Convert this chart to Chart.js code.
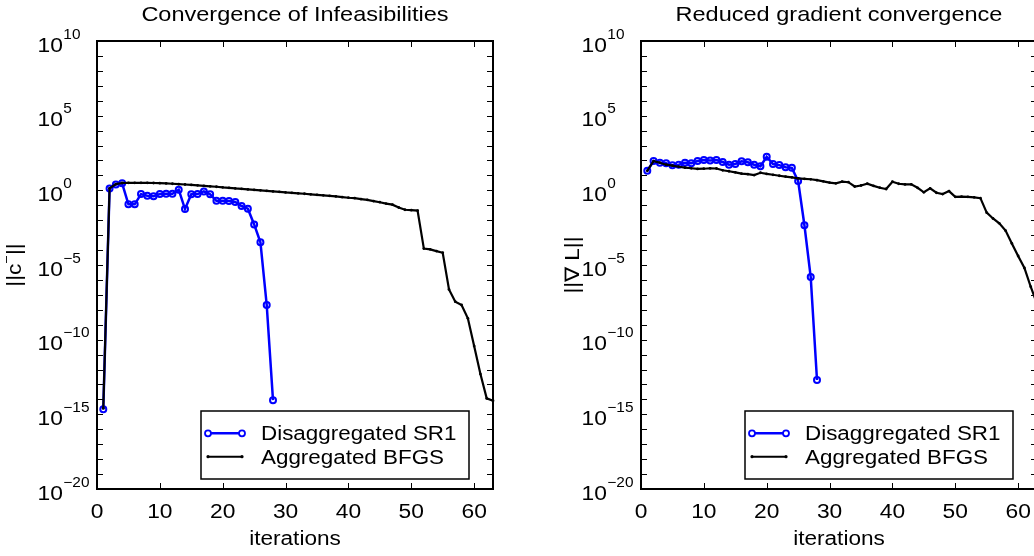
<!DOCTYPE html>
<html><head><meta charset="utf-8">
<script src="https://cdn.jsdelivr.net/npm/chart.js@4.4.0/dist/chart.umd.min.js"></script>
<style>
html,body{margin:0;padding:0;width:1034px;height:556px;overflow:hidden;background:#fff;}
#c1{position:absolute;left:0;top:0;}
#c2{position:absolute;left:520px;top:0;}
</style></head><body>
<canvas id="c1" width="520" height="556"></canvas>
<canvas id="c2" width="540" height="556"></canvas>
<script>
// ---------------- data ----------------
const iterSR1 = [1,2,3,4,5,6,7,8,9,10,11,12,13,14,15,16,17,18,19,20,21,22,23,24,25,26,27,28];
const iterBFGS = [1,2,3,4,5,6,7,8,9,10,11,12,13,14,15,16,17,18,19,20,21,22,23,24,25,26,27,28,29,30,31,32,33,34,35,36,37,38,39,40,41,42,43,44,45,46,47,48,49,50,51,52,53,54,55,56,57,58,59,60,61,62,63];

const infeasSR1 = [2.2e-15,1.35,2.5,2.95,0.115,0.115,0.56,0.44,0.4,0.56,0.59,0.59,1.1,0.056,0.54,0.56,0.85,0.54,0.2,0.2,0.19,0.166,0.089,0.059,0.0052,3.3e-4,2.1e-8,8.9e-15];
const infeasBFGS = [2.5e-15,1.35,2.6,3.1,3.2,3.2,3.2,3.2,3.1,3.0,2.9,2.75,2.6,2.45,2.3,2.15,2.0,1.86,1.74,1.58,1.48,1.35,1.26,1.15,1.07,1.0,0.93,0.85,0.79,0.72,0.68,0.63,0.59,0.54,0.5,0.46,0.43,0.39,0.355,0.32,0.3,0.26,0.23,0.19,0.16,0.13,0.11,0.071,0.05,0.047,0.044,1.26e-4,1.12e-4,8.5e-5,6.6e-5,2.3e-7,3.5e-8,2.1e-8,2.7e-9,3.7e-11,5.0e-13,1.17e-14,8.1e-15];

const gradSR1 = [20.4,91,71,65,47,52,71,65,91,107,100,107,79,52,58,87,76,52,41,178,58,49,35,32,4.2,4.6e-3,1.55e-6,2.0e-13];
const gradBFGS = [20.4,91,71,52,45,38,33,30,27,28,30,29,22,19,16,13,12,10.5,15,12.6,11,9.5,8.3,7.4,6.3,5.9,5.5,4.8,4.0,3.3,2.95,3.8,3.5,1.8,2.1,2.75,2.0,1.5,1.23,3.8,2.75,2.5,2.5,1.48,0.74,1.35,0.69,0.56,0.89,0.37,0.38,0.37,0.34,0.3,0.032,0.013,6.2e-3,2.0e-3,2.8e-4,4.0e-5,6.3e-6,3.5e-7,2.5e-8];

const xTickValues = [0,10,20,30,40,50,60];
const yLabelExponents = [-20,-15,-10,-5,0,5,10];
const yDecadeExponents = [-20,-19,-18,-17,-16,-15,-14,-13,-12,-11,-10,-9,-8,-7,-6,-5,-4,-3,-2,-1,0,1,2,3,4,5,6,7,8,9,10];
const seriesNames = ['Disaggregated SR1','Aggregated BFGS'];

// ---------------- helpers ----------------
const FAM = '"Liberation Sans", Arial, Helvetica, sans-serif';
function sText(ctx, str, x, y, size, k, align) {
  ctx.save();
  ctx.font = size + 'px ' + FAM;
  const w = ctx.measureText(str).width * k;
  let x0 = x;
  if (align === 'center') x0 = x - w / 2;
  else if (align === 'right') x0 = x - w;
  ctx.translate(x0, y); ctx.scale(k, 1);
  ctx.textAlign = 'left'; ctx.textBaseline = 'alphabetic';
  ctx.fillStyle = '#000';
  ctx.fillText(str, 0, 0);
  ctx.restore();
  return w;
}
function sWidth(ctx, str, size, k) {
  ctx.save(); ctx.font = size + 'px ' + FAM;
  const w = ctx.measureText(str).width * k; ctx.restore(); return w;
}
function seg(ctx, x1, y1, x2, y2) { ctx.beginPath(); ctx.moveTo(x1, y1); ctx.lineTo(x2, y2); ctx.stroke(); }

const matlabAxes = {
  id: 'matlabAxes',
  afterDraw(chart) {
    const o = chart.options.plugins.matlabAxes;
    const ctx = chart.ctx, a = chart.chartArea, xs = chart.scales.x, ys = chart.scales.y;
    ctx.save();
    ctx.strokeStyle = '#000';
    // ticks
    ctx.lineWidth = 1;
    for (const v of xTickValues) {
      const px = Math.round(xs.getPixelForValue(v)) + 0.5;
      seg(ctx, px, a.bottom, px, a.bottom - 6);
      seg(ctx, px, a.top, px, a.top + 6);
    }
    for (const e of yDecadeExponents) {
      const py = Math.round(ys.getPixelForValue(Math.pow(10, e))) + 0.5;
      seg(ctx, a.left, py, a.left + 6, py);
      seg(ctx, a.right, py, a.right - 6, py);
    }
    // frame
    ctx.lineWidth = 2;
    ctx.strokeRect(Math.round(a.left), Math.round(a.top), Math.round(a.right - a.left), Math.round(a.bottom - a.top));
    // x tick labels
    for (const v of xTickValues) {
      sText(ctx, String(v), xs.getPixelForValue(v), a.bottom + 29, 20, 1.14, 'center');
    }
    // y tick labels (10^e)
    for (const e of yLabelExponents) {
      const py = ys.getPixelForValue(Math.pow(10, e));
      const x0 = a.left - 59.5;
      const w = sText(ctx, '10', x0, py + 10.5, 20, 1.14, 'left');
      const ex = e < 0 ? '\u2212' + Math.abs(e) : String(e);
      sText(ctx, ex, x0 + w + 0.5, py - 2.5, 14, 1.1, 'left');
    }
    // title
    sText(ctx, o.title, (a.left + a.right) / 2, 21, 21, 1.12, 'center');
    // x axis title
    sText(ctx, 'iterations', (a.left + a.right) / 2, 545, 20, 1.13, 'center');
    // y axis title (rotated)
    ctx.save();
    ctx.translate(a.left + o.yTitleOffset, (a.top + a.bottom) / 2);
    ctx.rotate(-Math.PI / 2);
    let total = 0;
    for (const p of o.yTitle) total += sWidth(ctx, p.t, p.sup ? 13 : 20, 1.13);
    let cx = -total / 2;
    for (const p of o.yTitle) {
      cx += sText(ctx, p.t, cx, p.sup ? -10 : 0, p.sup ? 13 : 20, 1.13, 'left');
    }
    ctx.restore();
    // legend
    const L = a.left + 104, R = a.right - 24, T = a.bottom - 78, B = a.bottom - 10;
    ctx.fillStyle = '#fff';
    ctx.fillRect(L, T, R - L, B - T);
    ctx.lineWidth = 1.5;
    ctx.strokeStyle = '#000';
    ctx.strokeRect(L, T, R - L, B - T);
    const r1 = T + 22.3, r2 = T + 45.7;
    // SR1 sample
    ctx.strokeStyle = '#0000ff'; ctx.lineWidth = 2.5;
    seg(ctx, L + 7, r1, L + 41, r1);
    ctx.lineWidth = 1.8; ctx.fillStyle = '#fff';
    for (const px of [L + 7, L + 41]) { ctx.beginPath(); ctx.arc(px, r1, 3, 0, Math.PI * 2); ctx.fill(); ctx.stroke(); }
    // BFGS sample
    ctx.strokeStyle = '#000'; ctx.lineWidth = 2;
    seg(ctx, L + 7, r2, L + 41, r2);
    ctx.fillStyle = '#000';
    for (const px of [L + 7, L + 41]) { ctx.beginPath(); ctx.arc(px, r2, 1.6, 0, Math.PI * 2); ctx.fill(); }
    sText(ctx, seriesNames[0], L + 60, r1 + 7, 20, 1.12, 'left');
    sText(ctx, seriesNames[1], L + 60, r2 + 7, 20, 1.12, 'left');
    ctx.restore();
  }
};

function makeChart(id, xsSR1, ysSR1, xsBFGS, ysBFGS, rightPad, leftWidth, title, yTitle, yTitleOffset) {
  return new Chart(document.getElementById(id), {
    type: 'line',
    data: {
      datasets: [
        {
          label: seriesNames[0],
          data: xsSR1.map((x, i) => ({ x: x, y: ysSR1[i] })),
          borderColor: '#0000ff', borderWidth: 2.5,
          pointRadius: 3, pointBorderWidth: 2,
          pointBackgroundColor: 'rgba(0,0,0,0)', pointBorderColor: '#0000ff',
          tension: 0, order: 1, clip: 4
        },
        {
          label: seriesNames[1],
          data: xsBFGS.map((x, i) => ({ x: x, y: ysBFGS[i] })),
          borderColor: '#000000', borderWidth: 2.2,
          pointRadius: 1.4, pointBorderWidth: 0,
          pointBackgroundColor: '#000000', pointBorderColor: '#000000',
          tension: 0, order: 0, clip: 4
        }
      ]
    },
    options: {
      responsive: false, animation: false, devicePixelRatio: 1,
      layout: { padding: { top: 41, right: rightPad, left: 0, bottom: 0 } },
      plugins: {
        legend: { display: false }, title: { display: false }, tooltip: { enabled: false },
        matlabAxes: { title: title, yTitle: yTitle, yTitleOffset: yTitleOffset }
      },
      scales: {
        x: {
          type: 'linear', min: 0, max: 63,
          grid: { display: false }, border: { display: false }, ticks: { display: false },
          afterFit: s => { s.height = 67; }
        },
        y: {
          type: 'logarithmic', min: 1e-20, max: 1e10,
          grid: { display: false }, border: { display: false }, ticks: { display: false },
          afterFit: s => { s.width = leftWidth; }
        }
      }
    },
    plugins: [matlabAxes]
  });
}

makeChart('c1', iterSR1, infeasSR1, iterBFGS, infeasBFGS, 27, 97,
  'Convergence of Infeasibilities',
  [{ t: '||c' }, { t: '\u2212', sup: true }, { t: '||' }], -76);
makeChart('c2', iterSR1, gradSR1, iterBFGS, gradBFGS, 23, 121,
  'Reduced gradient convergence',
  [{ t: '||\u2207 L||' }], -62);
</script>
</body></html>
